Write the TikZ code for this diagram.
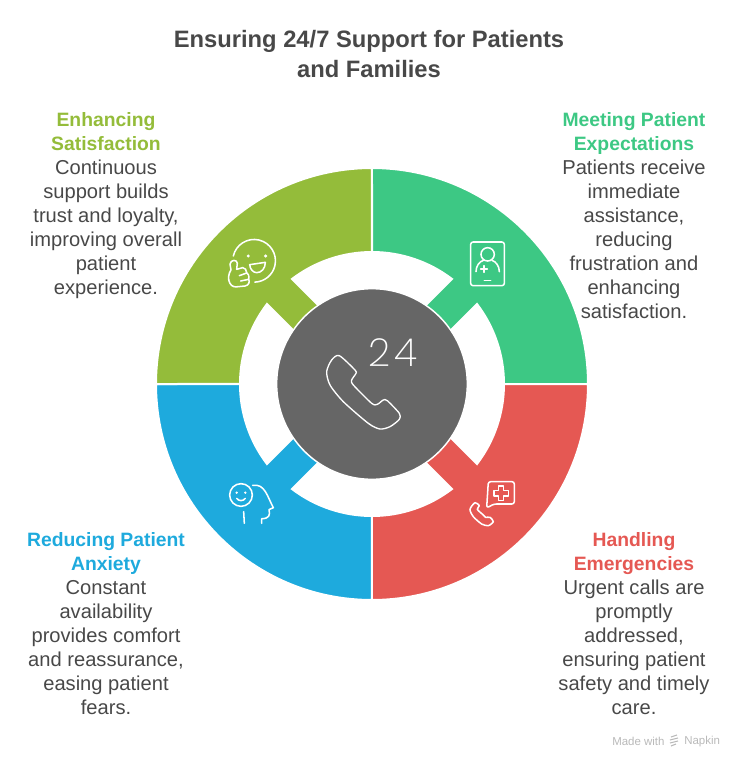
\documentclass[tikz,border=0pt]{standalone}
\usepackage{fontspec}
\usepackage{xcolor}
\setmainfont{Liberation Sans}
\newfontfamily\thinfont{Poppins ExtraLight}
\definecolor{petalgreen}{RGB}{61,200,132}
\definecolor{petalred}{RGB}{229,88,83}
\definecolor{petalblue}{RGB}{30,170,221}
\definecolor{petalolive}{RGB}{148,188,58}
\definecolor{hubgray}{RGB}{102,102,102}
\definecolor{textgray}{RGB}{72,72,72}
\definecolor{markgray}{RGB}{185,185,185}
\newcommand{\headline}[2]{\textcolor{#1}{\fontsize{14.5}{18}\bfseries\selectfont #2}}
\tikzset{
  blurb/.style={anchor=north,align=center,text=textgray,inner sep=0pt,font=\fontsize{15.1}{18}\selectfont},
  icon/.style={draw=white,line width=1.15pt,line cap=round,line join=round},
  zoomed/.style={x=0.25pt,y=-0.25pt}
}
\begin{document}
\begin{tikzpicture}[x=0.75pt,y=0.75pt]
\useasboundingbox (-372,384) rectangle (372,-385);
\node[anchor=center,align=center,text=textgray,inner sep=0pt,font=\fontsize{17.8}{22.5}\bfseries\selectfont] (title) at (-3,330) {Ensuring 24/7 Support for Patients\\and Families};
% ring
\foreach \ang/\col in {0/petalgreen,-90/petalred,-180/petalblue,-270/petalolive}
  \filldraw[\col,draw=white,line width=1.5pt,rotate=\ang] (0,216) arc[start angle=90,end angle=0,radius=216] -- (132,0) arc[start angle=0,end angle=37.3,radius=132] -- (50,25) -- (25,50) -- (80,105) arc[start angle=52.7,end angle=90,radius=132] -- cycle;
\node[circle,fill=hubgray,draw=white,line width=1.1pt,minimum size=143pt,inner sep=0pt] (hub) at (0,0) {};
% hub icon
\node[text=white,inner sep=0pt,font=\thinfont\fontsize{29}{29}\selectfont] (hours) at (21,31) {2\kern2.5pt 4};
\begin{scope}[shift={(-72,74)},zoomed]
\draw[icon,line width=1pt] plot[smooth cycle,tension=.45] coordinates {(118,137) (165,180) (168,190) (155,210) (160,225) (215,280) (232,283) (250,270) (262,272) (298,310) (298,328) (270,350) (240,357) (205,340) (130,275) (90,225) (80,185) (95,150)};
\end{scope}
% doctor card
\begin{scope}[shift={(68,164)},zoomed]
\draw[icon,rounded corners=1.8pt] (92,66) rectangle (193,197);
\draw[icon] (143,103) circle[radius=20];
\draw[icon] (108,155) .. controls (108,138) and (118,125) .. (130,121);
\draw[icon] (178,155) .. controls (178,138) and (168,125) .. (156,121);
\draw[icon] (122,147) -- (142,147);
\draw[icon] (132,137) -- (132,157);
\draw[icon] (133,181) -- (152,181);
\end{scope}
% thumbs up and smile
\begin{scope}[shift={(-172,164)},zoomed]
\draw[icon] (100,108) arc[start angle=-167,end angle=88,radius=64];
\fill[white] (145,108) circle[radius=5];
\fill[white] (197,108) circle[radius=5];
\draw[icon] (149,134) -- (196,127) .. controls (196,145) and (185,158) .. (170,158) .. controls (160,158) and (150,148) .. cycle;
\draw[icon] (110,148) -- (112,130) .. controls (112,118) and (92,118) .. (90,132) -- (93,150) .. controls (85,160) and (83,180) .. (90,190) .. controls (95,200) and (105,202) .. (115,200) -- (135,198) .. controls (147,196) and (150,185) .. (146,178) .. controls (148,168) and (145,160) .. (140,158) .. controls (140,150) and (135,143) .. (128,143) -- cycle;
\draw[icon] (118,167) -- (140,159);
\draw[icon] (122,183) -- (146,178);
\end{scope}
% emergency call
\begin{scope}[shift={(68,-76)},zoomed]
\draw[icon,rounded corners=1.8pt] (140,144) -- (145,65) -- (223,65) -- (223,132) -- (162,132) -- cycle;
\draw[icon] (175,78) -- (191,78) -- (191,92) -- (205,92) -- (205,108) -- (191,108) -- (191,122) -- (175,122) -- (175,108) -- (162,108) -- (162,92) -- (175,92) -- cycle;
\draw[icon] plot[smooth cycle,tension=.45] coordinates {(105,128) (90,148) (100,170) (125,192) (145,197) (160,185) (150,172) (137,172) (130,165) (112,148) (118,137)};
\end{scope}
% calm face and head
\begin{scope}[shift={(-162,-76)},zoomed]
\draw[icon] (93,105) circle[radius=34];
\fill[white] (80,98) circle[radius=4];
\fill[white] (106,98) circle[radius=4];
\draw[icon] (80,115) .. controls (86,124) and (100,124) .. (106,115);
\draw[icon] (101,155) -- (103,190);
\draw[icon] (128,76) .. controls (165,70) and (172,110) .. (190,143) -- (177,149) .. controls (181,165) and (178,176) .. (155,176) -- (155,190);
\end{scope}
% texts
\node[blurb] (satisfaction) at (-266,272) {\headline{petalolive}{Enhancing}\\\headline{petalolive}{Satisfaction}\\Continuous\\support builds\\trust and loyalty,\\improving overall\\patient\\experience.};
\node[blurb] (expectations) at (262,272) {\headline{petalgreen}{Meeting Patient}\\\headline{petalgreen}{Expectations}\\Patients receive\\immediate\\assistance,\\reducing\\frustration and\\enhancing\\satisfaction.};
\node[blurb] (anxiety) at (-266,-148) {\headline{petalblue}{Reducing Patient}\\\headline{petalblue}{Anxiety}\\Constant\\availability\\provides comfort\\and reassurance,\\easing patient\\fears.};
\node[blurb] (emergencies) at (262,-148) {\headline{petalred}{Handling}\\\headline{petalred}{Emergencies}\\Urgent calls are\\promptly\\addressed,\\ensuring patient\\safety and timely\\care.};
% footer
\node[anchor=west,text=markgray,inner sep=0pt,font=\fontsize{8.6}{10}\selectfont] (madewith) at (240,-357.5) {Made with};
\node[anchor=west,text=markgray,inner sep=0pt,font=\fontsize{8.6}{10}\selectfont] (napkin) at (312,-357.5) {Napkin};
\draw[markgray,line width=0.8pt] (299,-353) -- (305,-351) (298,-356) -- (306,-354) (298,-359) -- (306,-357) (299,-362) -- (304,-360);
\end{tikzpicture}
\end{document}
